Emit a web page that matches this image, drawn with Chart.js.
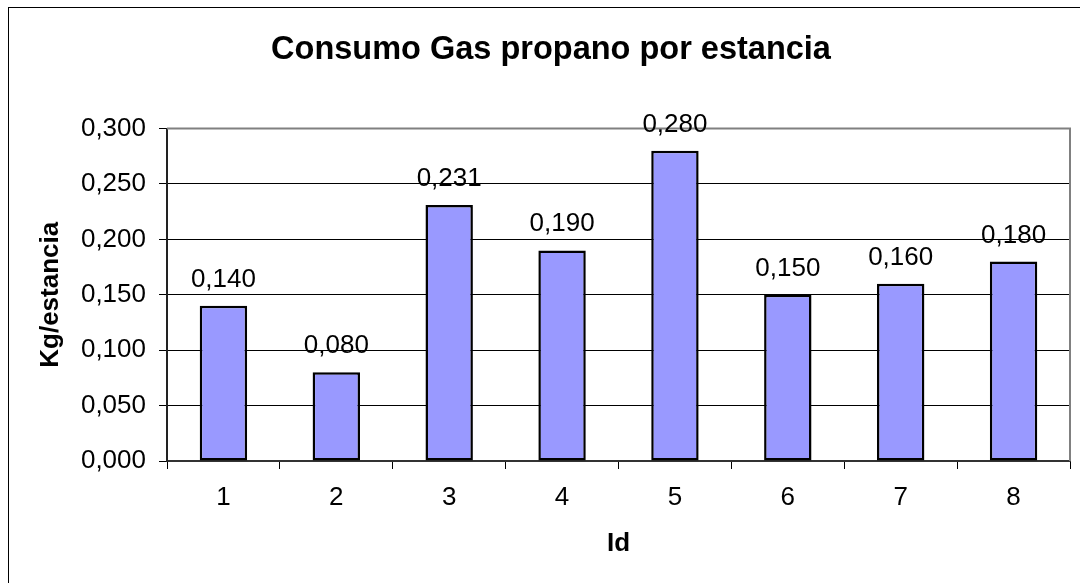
<!DOCTYPE html>
<html>
<head>
<meta charset="utf-8">
<script src="https://cdn.jsdelivr.net/npm/chart.js@4/dist/chart.umd.min.js"></script>
<style>
  html, body { margin: 0; padding: 0; background: #fff; overflow: hidden; }
  #wrap { position: relative; width: 1080px; height: 583px; }
  canvas { position: absolute; left: 0; top: 0; }
  #frame { position: absolute; left: 8px; top: 7px; width: 2000px; height: 2000px;
           border-left: 1px solid #000; border-top: 1px solid #000; pointer-events: none; }
</style>
</head>
<body>
<div id="wrap">
  <canvas id="c" width="1080" height="583"></canvas>
  <div id="frame"></div>
</div>
<script>
const categories = ['1', '2', '3', '4', '5', '6', '7', '8'];
const values = [0.140, 0.080, 0.231, 0.190, 0.280, 0.150, 0.160, 0.180];
const chartTitle = 'Consumo Gas propano por estancia';
const xTitle = 'Id';
const yTitle = 'Kg/estancia';
const yMin = 0, yMax = 0.3, yStep = 0.05;

const FONT = "'Liberation Sans', Arial, sans-serif";
const fmt = v => Number(v).toFixed(3).replace('.', ',');

const plotFrame = {
  id: 'plotFrame',
  beforeDatasetsDraw(chart) {
    const a = chart.chartArea, ctx = chart.ctx;
    ctx.save();
    ctx.strokeStyle = '#808080';
    ctx.lineWidth = 2;
    ctx.beginPath();
    ctx.moveTo(a.left, a.top);
    ctx.lineTo(a.right, a.top);
    ctx.lineTo(a.right, a.bottom);
    ctx.stroke();
    ctx.restore();
  }
};

const valueLabels = {
  id: 'valueLabels',
  afterDatasetsDraw(chart) {
    const ctx = chart.ctx;
    const meta = chart.getDatasetMeta(0);
    ctx.save();
    ctx.font = '26px ' + FONT;
    ctx.fillStyle = '#000';
    ctx.textAlign = 'center';
    ctx.textBaseline = 'alphabetic';
    meta.data.forEach((bar, i) => {
      ctx.fillText(fmt(chart.data.datasets[0].data[i]), bar.x, bar.y - 19);
    });
    ctx.restore();
  }
};

new Chart(document.getElementById('c'), {
  type: 'bar',
  data: {
    labels: categories,
    datasets: [{
      data: values,
      backgroundColor: '#9999FF',
      borderColor: '#000',
      borderWidth: 2.5,
      borderSkipped: false,
      barPercentage: 0.42,
      categoryPercentage: 1
    }]
  },
  options: {
    responsive: false,
    animation: false,
    devicePixelRatio: 1,
    layout: { padding: { left: 32, right: 10, top: 0, bottom: 0 } },
    plugins: {
      legend: { display: false },
      tooltip: { enabled: false },
      title: {
        display: true,
        text: chartTitle,
        color: '#000',
        font: { family: FONT, size: 32.5, weight: 'bold', lineHeight: 1.2 },
        padding: { top: 30.5, bottom: 59 }
      }
    },
    scales: {
      x: {
        offset: true,
        afterFit(s) { s.height = 122; },
        grid: { offset: true, drawOnChartArea: false, drawTicks: true, tickLength: 8, color: '#000', lineWidth: 1 },
        border: { display: true, color: '#333', width: 2 },
        ticks: { color: '#000', font: { family: FONT, size: 26 }, padding: 13.5, autoSkip: false, maxRotation: 0 },
        title: {
          display: true, text: xTitle, color: '#000',
          font: { family: FONT, size: 26, weight: 'bold', lineHeight: 1.2 },
          padding: { top: 0, bottom: 23.4 }
        }
      },
      y: {
        min: yMin, max: yMax,
        afterFit(s) { s.width = 135; },
        grid: {
          color: ctx => (ctx.tick && Math.abs(ctx.tick.value - yMax) < 1e-9) ? 'rgba(0,0,0,0)' : '#000',
          tickColor: '#000',
          lineWidth: 1, drawTicks: true, tickLength: 8
        },
        border: { display: true, color: '#222', width: 2 },
        ticks: {
          stepSize: yStep, color: '#000', padding: 13,
          font: { family: FONT, size: 26 },
          callback: v => fmt(v)
        },
        title: {
          display: true, text: yTitle, color: '#000',
          font: { family: FONT, size: 26, weight: 'bold', lineHeight: 1.2 },
          padding: { top: 3, bottom: 0 }
        }
      }
    }
  },
  plugins: [plotFrame, valueLabels]
});
</script>
</body>
</html>
